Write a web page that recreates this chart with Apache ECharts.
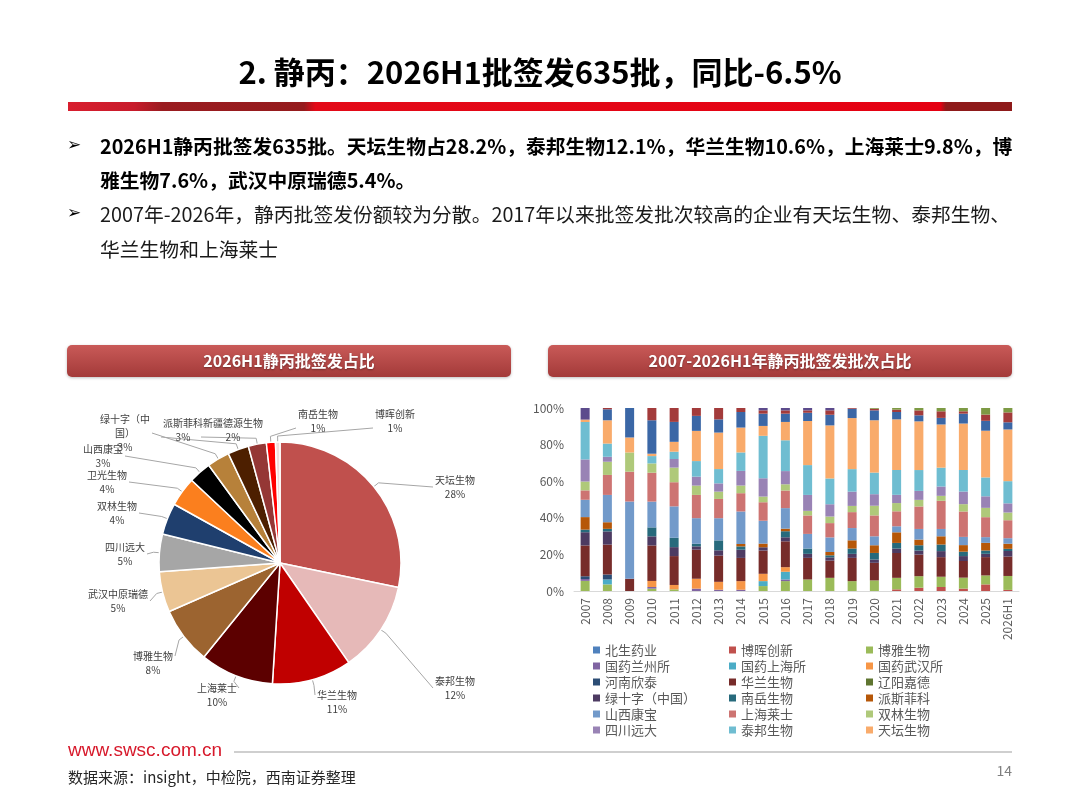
<!DOCTYPE html>
<html>
<head>
<meta charset="utf-8">
<title>静丙批签发</title>
<script src="https://cdn.jsdelivr.net/npm/echarts@6/dist/echarts.min.js"></script>
<style>
  html, body { margin: 0; padding: 0; background: #fff; }
  #main { width: 1080px; height: 810px; }
</style>
</head>
<body>
<div id="main"></div>
<script type="text/javascript">
// ---- 数据 ----
// 饼图：2026H1 批签发占比（%）
var pieNames = ['天坛生物', '泰邦生物', '华兰生物', '上海莱士', '博雅生物', '武汉中原瑞德', '四川远大',
  '双林生物', '卫光生物', '山西康宝', '绿十字（中国）', '派斯菲科', '新疆德源生物', '南岳生物', '博晖创新'];
var pieValues = [28.2, 12.1, 10.6, 9.8, 7.6, 5.4, 5.0, 4.2, 3.9, 3.0, 3.0, 2.8, 2.4, 1.2, 0.6];
var pieColors = ['#C0504D', '#E6B9B8', '#C00000', '#5C0000', '#9C6430', '#EBC594', '#A6A6A6',
  '#1F3F6E', '#FB7F1E', '#000000', '#B7813A', '#4D1F00', '#953735', '#FF0000', '#F2DCDB'];

// 柱状图：各年度批签发批次占比（%）
var years = ['2007', '2008', '2009', '2010', '2011', '2012', '2013', '2014', '2015', '2016',
  '2017', '2018', '2019', '2020', '2021', '2022', '2023', '2024', '2025', '2026H1'];

var beisheng   = [0, 0, 0, 0, 0, 0, 0, 0, 0, 0, 0, 0, 0, 0, 0, 0, 0, 0, 0, 0];
var bohui      = [0, 0, 0, 0, 0, 0, 0, 0, 0, 0, 0, 0, 0, 0, 0.9, 1.8, 2.2, 1.3, 3.6, 0.6];
var boya       = [5.5, 3.6, 0, 1.3, 0.9, 0, 0, 0, 2.7, 5.4, 6.3, 7.2, 5.4, 5.8, 6.3, 6.3, 5.6, 6.0, 4.9, 7.6];
var lanzhou    = [1.0, 0, 0, 0.9, 0, 1.3, 0.7, 0.7, 0, 0.9, 0, 0, 0, 0, 0, 0, 0, 0, 0, 0];
var shanghaiSuo = [0, 2.7, 0, 0, 0, 0, 0, 0, 2.7, 4.2, 0, 0, 0, 0, 0, 0, 0, 0, 0, 0];
var wuhanSuo   = [0, 0, 0, 3.3, 2.4, 5.4, 4.3, 4.7, 4.0, 2.5, 0, 0, 0, 0, 0, 0, 0, 0, 0, 0];
var xintai     = [1.5, 2.7, 0, 0, 0, 0, 0, 0, 0, 0, 0, 0, 0, 0, 0, 0, 0, 0, 0, 0];
var hualan     = [16.7, 16.3, 6.7, 19.4, 15.8, 15.9, 14.3, 12.7, 12.7, 14.1, 11.8, 9.4, 12.7, 9.6, 13.6, 11.8, 10.7, 9.1, 10.0, 10.6];
var jiade      = [0, 0, 0, 0, 0, 0, 0, 0, 0, 0, 0, 0, 0, 0, 0, 0, 0, 0, 0, 0];
var lvshizi    = [7.2, 7.2, 0, 5.0, 4.9, 1.8, 2.9, 4.5, 1.8, 2.2, 2.2, 1.8, 2.2, 1.8, 2.4, 2.2, 3.3, 2.7, 1.8, 3.0];
var nanyue     = [1.4, 1.4, 0, 4.9, 5.1, 1.4, 5.4, 1.8, 0, 3.3, 2.9, 1.1, 2.9, 3.6, 3.1, 2.9, 3.6, 2.4, 1.8, 1.2];
var paisi      = [6.8, 3.6, 0, 0, 0, 0, 0, 1.3, 2.0, 1.4, 0, 1.8, 4.5, 4.2, 5.8, 3.1, 4.5, 3.6, 4.2, 2.8];
var kangbao    = [9.4, 14.9, 42.2, 14.1, 17.2, 14.0, 12.1, 17.8, 12.5, 11.2, 8.0, 8.0, 6.7, 4.9, 3.3, 5.8, 4.0, 4.5, 3.1, 3.0];
var laishi     = [5.1, 10.9, 16.3, 15.8, 13.2, 12.7, 10.5, 10.0, 10.1, 9.6, 10.1, 7.8, 8.7, 11.4, 8.2, 12.3, 15.4, 13.9, 10.9, 9.8];
var shuanglin  = [4.8, 7.2, 10.5, 5.1, 8.0, 5.1, 4.0, 4.2, 3.1, 3.4, 2.5, 3.6, 3.4, 5.3, 4.5, 3.6, 2.7, 4.0, 5.1, 4.2];
var yuanda     = [12.0, 2.7, 0, 0, 4.7, 4.9, 4.5, 8.0, 10.0, 7.2, 8.7, 6.7, 7.8, 6.3, 4.5, 4.9, 5.1, 6.9, 6.3, 5.0];
var taibang    = [20.3, 7.2, 0, 4.0, 4.0, 8.5, 7.8, 10.1, 23.2, 16.8, 16.3, 14.1, 12.3, 11.8, 13.6, 11.4, 10.3, 11.8, 10.3, 12.1];
var tiantan    = [1.3, 12.7, 8.2, 1.3, 5.4, 16.5, 19.9, 13.6, 5.4, 10.0, 24.1, 29.0, 27.9, 28.6, 27.7, 26.6, 23.6, 25.4, 25.5, 28.2];
// 图例中未列出的企业
var weiguang   = [0, 6.0, 16.1, 18.3, 10.9, 8.2, 7.2, 8.5, 6.7, 4.5, 4.5, 5.8, 5.1, 5.4, 4.0, 3.3, 3.6, 5.4, 5.4, 3.9];
var zhongyuan  = [0, 0.7, 0, 6.7, 7.6, 4.3, 6.2, 2.2, 1.8, 1.8, 1.3, 2.4, 0.4, 0.9, 1.3, 2.7, 3.6, 1.3, 3.4, 5.4];
var deyuan     = [0, 0, 0, 0, 0, 0, 0, 0, 0, 0, 0, 0, 0, 0.4, 0.9, 1.3, 1.8, 1.8, 3.6, 2.4];
var others     = [6.3, 0, 0, 0, 0, 0, 0, 0, 1.3, 1.3, 1.3, 1.3, 0, 0, 0, 0, 0, 0, 0, 0];

var barNames = ['北生药业', '博晖创新', '博雅生物', '国药兰州所', '国药上海所', '国药武汉所', '河南欣泰', '华兰生物', '辽阳嘉德',
  '绿十字（中国）', '南岳生物', '派斯菲科', '山西康宝', '上海莱士', '双林生物', '四川远大', '泰邦生物', '天坛生物',
  '卫光生物', '武汉中原瑞德', '新疆德源生物', '其他'];
var barData = [beisheng, bohui, boya, lanzhou, shanghaiSuo, wuhanSuo, xintai, hualan, jiade,
  lvshizi, nanyue, paisi, kangbao, laishi, shuanglin, yuanda, taibang, tiantan,
  weiguang, zhongyuan, deyuan, others];
var barColors = ['#4F81BD', '#C0504D', '#9BBB59', '#8064A2', '#4BACC6', '#F79646', '#2C4D75', '#772C2A', '#5F7530',
  '#4D3B62', '#276A7C', '#B65708', '#729ACA', '#CD7472', '#AFC97A', '#9983B5', '#6FBDD1', '#F9AB6B',
  '#3B67A6', '#A33B3B', '#7D9A44', '#5C4B8C'];

// ---- 图表 ----
var myChart = echarts.init(document.getElementById('main'));
var CJK = '"Noto Sans CJK SC", "Noto Sans", sans-serif';

var PIE_CX = 280, PIE_CY = 563, PIE_R = 121;
// 饼图标签的摆放位置（标签中心，按扇区顺序）
var pieLabelPos = [
  [455, 487], [455, 688], [337, 702], [217, 695], [153, 663], [118, 601], [125, 554],
  [117, 513], [107, 482], [103, 456], [125, 433], [183, 430], [233, 430], [318, 421], [395, 421]
];

// 每年合计归一化为 100%
var totals = years.map(function (y, i) {
  var s = 0;
  barData.forEach(function (arr) { s += arr[i]; });
  return s;
});

var barSeries = barData.map(function (arr, k) {
  return {
    name: barNames[k],
    type: 'bar',
    stack: 'share',
    barWidth: 9,
    itemStyle: { color: barColors[k] },
    data: arr.map(function (v, i) { return +(v / totals[i] * 100).toFixed(3); })
  };
});

var pieSum = pieValues.reduce(function (a, b) { return a + b; }, 0);
function sliceEdge(idx) {
  var cum = 0;
  for (var i = 0; i < idx; i++) cum += pieValues[i];
  var a = (cum + pieValues[idx] / 2) / pieSum * Math.PI * 2;
  return [PIE_CX + PIE_R * Math.sin(a), PIE_CY - PIE_R * Math.cos(a), Math.sin(a), -Math.cos(a)];
}

var pieSeries = {
  type: 'pie',
  center: [PIE_CX, PIE_CY],
  radius: PIE_R,
  startAngle: 90,
  clockwise: true,
  avoidLabelOverlap: false,
  itemStyle: { borderColor: '#fff', borderWidth: 1.5 },
  label: {
    fontSize: 10,
    lineHeight: 14,
    color: '#404040',
    fontFamily: CJK,
    formatter: function (p) {
      var n = p.name.length > 6 ? p.name.slice(0, 5) + '\n' + p.name.slice(5) : p.name;
      return n + '\n' + Math.round(p.percent) + '%';
    }
  },
  labelLine: { show: true, length: 10, length2: 10, lineStyle: { color: '#a6a6a6', width: 1 } },
  labelLayout: function (params) {
    var i = params.dataIndex;
    var pos = pieLabelPos[i];
    var w = params.labelRect.width, h = params.labelRect.height;
    var e = sliceEdge(i);
    var p0 = [e[0], e[1]];
    var p1 = [e[0] + e[2] * 6, e[1] + e[3] * 6];
    var end;
    if (i >= 11) {
      end = [pos[0] - w / 2 - 2, pos[1] + h / 4];
    } else if (i >= 2 && i <= 4) {
      end = [pos[0] + (pos[0] < PIE_CX ? w / 2 + 2 : -w / 2 - 2), pos[1] - h / 4];
    } else if (pos[0] < PIE_CX) {
      end = [pos[0] + w / 2 + 2, pos[1]];
    } else {
      end = [pos[0] - w / 2 - 2, pos[1]];
    }
    return {
      x: pos[0],
      y: pos[1],
      align: 'center',
      verticalAlign: 'middle',
      labelLinePoints: [p0, p1, end]
    };
  },
  data: pieNames.map(function (n, i) {
    return { name: n, value: pieValues[i], itemStyle: { color: pieColors[i] } };
  })
};

// 三列图例
function legendCol(col, left) {
  var names = [];
  for (var i = col; i < 18; i += 3) names.push(barNames[i]);
  return {
    orient: 'vertical',
    left: left,
    top: 638,
    itemWidth: 7,
    itemHeight: 7,
    itemGap: 2,
    icon: 'rect',
    selectedMode: false,
    textStyle: { fontSize: 13, color: '#595959', fontFamily: CJK, lineHeight: 14 },
    data: names
  };
}

function titleBox(x, w, text) {
  return {
    type: 'group',
    children: [
      {
        type: 'rect',
        shape: { x: x, y: 345, width: w, height: 32, r: 5 },
        style: {
          fill: new echarts.graphic.LinearGradient(0, 0, 0, 1, [
            { offset: 0, color: '#C95A58' },
            { offset: 1, color: '#A33A39' }
          ]),
          shadowBlur: 3, shadowColor: 'rgba(0,0,0,0.25)', shadowOffsetY: 1
        }
      },
      {
        type: 'text',
        style: {
          text: text, x: x + w / 2, y: 361, align: 'center', verticalAlign: 'middle',
          fill: '#fff', fontSize: 16, fontWeight: 'bold', fontFamily: CJK,
          textShadowColor: 'rgba(0,0,0,0.35)', textShadowBlur: 2, textShadowOffsetY: 1
        }
      }
    ]
  };
}

function txt(text, x, y, size, weight, color, align) {
  return {
    type: 'text',
    style: {
      text: text, x: x, y: y, align: align || 'left', verticalAlign: 'middle',
      fill: color || '#000', fontSize: size, fontWeight: weight || 'normal', fontFamily: CJK
    }
  };
}

function bullet(y) {
  return {
    type: 'text',
    style: { text: '➢', x: 67, y: y, verticalAlign: 'middle', fontSize: 17, fill: '#000', fontFamily: 'DejaVu Sans' }
  };
}

var option = {
  animation: false,
  grid: { left: 574, top: 408, width: 445, height: 183 },
  xAxis: {
    type: 'category',
    data: years,
    axisTick: { show: false },
    axisLine: { lineStyle: { color: '#d9d9d9' } },
    axisLabel: { rotate: 90, fontSize: 12, color: '#595959', margin: 7, fontFamily: CJK }
  },
  yAxis: {
    type: 'value',
    min: 0,
    max: 100,
    interval: 20,
    splitLine: { show: false },
    axisLine: { show: false },
    axisTick: { show: false },
    axisLabel: { formatter: '{value}%', fontSize: 12, color: '#595959', margin: 10, fontFamily: CJK }
  },
  legend: [legendCol(0, 588), legendCol(1, 724), legendCol(2, 861)],
  graphic: [
    txt('2. 静丙：2026H1批签发635批，同比-6.5%', 540, 72, 31, 'bold', '#000', 'center'),
    {
      type: 'rect',
      shape: { x: 68, y: 102, width: 944, height: 9 },
      style: {
        fill: new echarts.graphic.LinearGradient(0, 0, 1, 0, [
          { offset: 0, color: '#D81E2E' },
          { offset: 0.07, color: '#C81B2B' },
          { offset: 0.1, color: '#9A1C20' },
          { offset: 0.25, color: '#951B1D' },
          { offset: 0.262, color: '#E30A18' },
          { offset: 0.924, color: '#E50012' },
          { offset: 0.93, color: '#8E1A1A' },
          { offset: 1, color: '#8E1A1A' }
        ])
      }
    },
    bullet(146),
    txt('2026H1静丙批签发635批。天坛生物占28.2%，泰邦生物12.1%，华兰生物10.6%，上海莱士9.8%，博', 100, 146, 19.8, 'bold'),
    txt('雅生物7.6%，武汉中原瑞德5.4%。', 100, 180, 19.8, 'bold'),
    bullet(214),
    txt('2007年-2026年，静丙批签发份额较为分散。2017年以来批签发批次较高的企业有天坛生物、泰邦生物、', 100, 214, 19.8, 'normal', '#1a1a1a'),
    txt('华兰生物和上海莱士', 100, 249, 19.8, 'normal', '#1a1a1a'),
    titleBox(67, 444, '2026H1静丙批签发占比'),
    titleBox(548, 464, '2007-2026H1年静丙批签发批次占比'),
    {
      type: 'text',
      style: { text: 'www.swsc.com.cn', x: 68, y: 751, verticalAlign: 'middle', fontSize: 19, fill: '#D7192B', fontFamily: 'Liberation Sans, Arial, sans-serif' }
    },
    {
      type: 'line',
      shape: { x1: 234, y1: 752, x2: 1012, y2: 752 },
      style: { stroke: '#bfbfbf', lineWidth: 1.5 }
    },
    txt('数据来源：insight，中检院，西南证券整理', 68, 777, 15, 'normal', '#262626'),
    txt('14', 1012, 771, 14, 'normal', '#7f7f7f', 'right')
  ],
  series: barSeries.concat([pieSeries])
};

myChart.setOption(option);
window.onresize = myChart.resize;
</script>
</body>
</html>
